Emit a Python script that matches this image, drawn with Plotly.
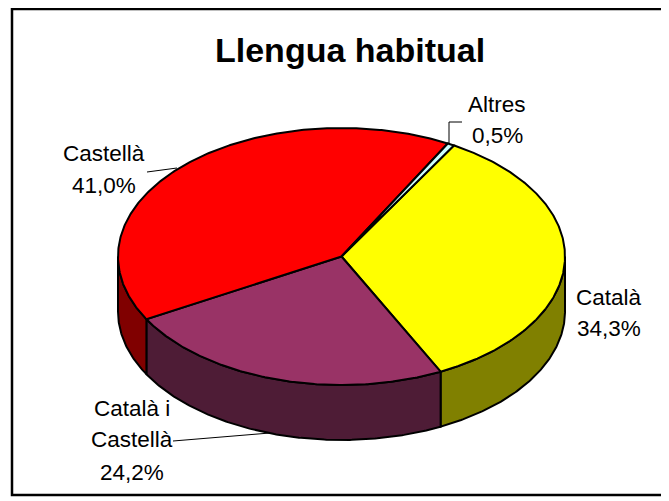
import numpy as np
import plotly.graph_objects as go

# ---- data (clockwise order as drawn) ----
categories = ["Català", "Català i Castellà", "Castellà", "Altres"]
values = [34.3, 24.2, 41.0, 0.5]
label_texts = ["34,3%", "24,2%", "41,0%", "0,5%"]
top_colors = ["#FFFF00", "#993366", "#FF0000", "#CCFFFF"]
side_colors = ["#808000", "#4E1C36", "#800000", "#669999"]

title = "Llengua habitual"

# ---- layout geometry (screen pixel space; page body has an 8px margin) ----
W, H = 669, 501
OFF = 8
CX, CY = 341.5, 256.5
A, B = 223.5, 128.5
DEPTH = 55
START = 30.2  # degrees, clockwise from 12 o'clock

def pt(theta_deg, dz=0.0):
    t = np.radians(theta_deg)
    return CX + A * np.sin(t), CY - B * np.cos(t) + dz

total = float(sum(values))
angles = []
a0 = START
for v in values:
    a1 = a0 + 360.0 * v / total
    angles.append((a0, a1))
    a0 = a1

fig = go.Figure()

# side faces (front half: 90..270 deg)
for (t1, t2), col in zip(angles, side_colors):
    for shift in (0, 360, -360):
        s1 = max(t1 + shift, 90)
        s2 = min(t2 + shift, 270)
        if s2 > s1:
            n = max(3, int((s2 - s1) * 2))
            th = np.linspace(s1, s2, n)
            xt, yt = pt(th)
            xb, yb = pt(th[::-1], DEPTH)
            xs = np.concatenate([xt, xb, xt[:1]])
            ys = np.concatenate([yt, yb, yt[:1]])
            fig.add_trace(go.Scatter(x=xs, y=ys, mode="lines", fill="toself",
                                     fillcolor=col, line=dict(color="black", width=2),
                                     hoverinfo="skip", showlegend=False))

# top faces
for (t1, t2), col, name in zip(angles, top_colors, categories):
    n = max(3, int((t2 - t1) * 2))
    th = np.linspace(t1, t2, n)
    xa, ya = pt(th)
    xs = np.concatenate([[CX], xa, [CX]])
    ys = np.concatenate([[CY], ya, [CY]])
    fig.add_trace(go.Scatter(x=xs, y=ys, mode="lines", fill="toself",
                             fillcolor=col, line=dict(color="black", width=2),
                             hoverinfo="skip", showlegend=False, name=name))

FONT = "Liberation Sans, Arial, sans-serif"
annotations = []

def text_line(x, baseline, txt, size=22.5, bold=False):
    annotations.append(dict(x=x, y=baseline - 0.35 * size, xref="x", yref="y",
                            text=("<b>%s</b>" % txt) if bold else txt,
                            showarrow=False, xanchor="center", yanchor="middle",
                            font=dict(family=FONT, size=size, color="black")))

text_line(350, 62, title, size=34, bold=True)

text_line(609, 305, categories[0])
text_line(609, 336, label_texts[0])
text_line(132, 416, "Català i")
text_line(132, 447, "Castellà")
text_line(132, 480, label_texts[1])
text_line(103.5, 161, categories[2])
text_line(103.5, 193, label_texts[2])
text_line(497, 112, categories[3])
text_line(497, 143, label_texts[3])

shapes = [
    dict(type="rect", xref="x", yref="y", x0=12, y0=9, x1=663, y1=495,
         line=dict(color="black", width=2.5), fillcolor="rgba(0,0,0,0)", layer="below"),
    dict(type="line", xref="x", yref="y", x0=147, y0=172, x1=177, y1=168,
         line=dict(color="black", width=1)),
    dict(type="line", xref="x", yref="y", x0=173, y0=441, x1=270, y1=433,
         line=dict(color="black", width=1)),
    dict(type="path", xref="x", yref="y", path="M 449 143 L 449 122 L 462 122",
         line=dict(color="black", width=1)),
]

fig.update_layout(
    width=W - OFF, height=H - OFF,
    margin=dict(l=0, r=0, t=0, b=0),
    paper_bgcolor="white", plot_bgcolor="white",
    xaxis=dict(range=[OFF, W], visible=False, fixedrange=True),
    yaxis=dict(range=[H, OFF], visible=False, fixedrange=True),
    annotations=annotations,
    shapes=shapes,
    showlegend=False,
)

fig.write_html("out.html")
